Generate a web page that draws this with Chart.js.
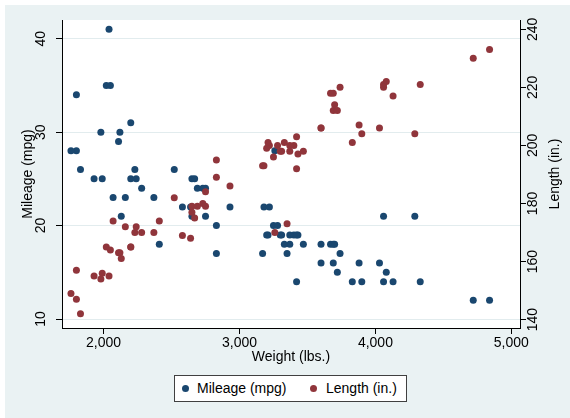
<!DOCTYPE html>
<html>
<head>
<meta charset="utf-8">
<title>Mileage and length by weight</title>
<script src="https://cdn.jsdelivr.net/npm/chart.js@4.4.1/dist/chart.umd.min.js"></script>
<style>
  body { margin: 0; background: #ffffff; }
  #wrap { position: relative; width: 570px; height: 418px; }
  #legend {
    position: absolute; left: 174px; top: 375px; width: 233px; height: 27px;
    box-sizing: border-box; border: 1px solid #404040; background: #ffffff;
    font: 14px "Liberation Sans", Arial, sans-serif; color: #000000;
  }
  .dot { position: absolute; top: 9px; width: 7px; height: 7px; border-radius: 50%; }
  .txt { position: absolute; top: 0; line-height: 25px; white-space: nowrap; }
</style>
</head>
<body>
<div id="wrap">
  <canvas id="chart" width="570" height="418"></canvas>
  <div id="legend"></div>
</div>
<script>
// Data (1978 automobiles): weight in lbs, mileage in mpg, length in inches
const weight = [2930, 3350, 2640, 3250, 4080, 3670, 2230, 3280, 3880, 3400,
                4330, 3900, 4290, 2110, 3690, 3180, 3220, 2750, 3430, 2120,
                3600, 3600, 3740, 1800, 2650, 4840, 4720, 3830, 2580, 4060,
                3720, 3370, 4130, 2830, 4060, 3310, 3300, 3690, 3370, 2730,
                4030, 3260, 1800, 2200, 2520, 3330, 3700, 3470, 3210, 3200,
                3420, 2690, 2830, 2070, 2650, 2370, 2020, 2280, 2750, 2130,
                2240, 1760, 1980, 3420, 1830, 2050, 2410, 2200, 2670, 2160,
                2040, 1930, 1990, 3170];
const mpg = [22, 17, 22, 20, 15, 18, 26, 20, 16, 19,
             14, 14, 21, 29, 16, 22, 22, 24, 19, 30,
             18, 16, 17, 28, 21, 12, 12, 14, 22, 14,
             15, 18, 14, 20, 21, 19, 19, 18, 19, 24,
             16, 28, 34, 25, 26, 18, 18, 18, 19, 19,
             19, 24, 17, 23, 25, 23, 35, 24, 21, 21,
             25, 28, 30, 14, 26, 35, 18, 31, 25, 23,
             41, 25, 25, 17];
const length = [186, 173, 168, 196, 222, 218, 170, 200, 207, 200,
                221, 204, 204, 163, 212, 193, 200, 179, 197, 163,
                206, 206, 220, 147, 179, 233, 230, 201, 169, 221,
                212, 198, 217, 195, 220, 198, 198, 218, 200, 180,
                206, 170, 157, 165, 182, 201, 214, 198, 201, 199,
                203, 179, 189, 174, 177, 170, 165, 170, 184, 161,
                172, 149, 154, 192, 142, 164, 174, 165, 175, 172,
                155, 155, 156, 193];

const seriesNames = ['Mileage (mpg)', 'Length (in.)'];
const seriesColors = ['#1a476f', '#90353b'];
const xTitle = 'Weight (lbs.)';

// Tick values
const xTicks = [2000, 3000, 4000, 5000];
const mpgTicks = [10, 20, 30, 40];
const lengthTicks = [140, 160, 180, 200, 220, 240];

const FONT = '14px "Liberation Sans", Arial, sans-serif';

// Helper: formats a number as 2,000
function formatar(v) {
    return v.toLocaleString('en-US');
}

// Helper: writes a text turned 90 degrees (reading bottom to top)
function textoVertical(ctx, texto, x, y) {
    ctx.save();
    ctx.translate(x, y);
    ctx.rotate(-Math.PI / 2);
    ctx.fillText(texto, 0, 0);
    ctx.restore();
}

// Plugin: Stata-like background, rotated y tick labels and axis titles
const moldura = {
    id: 'moldura',
    beforeDraw(chart) {
        const ctx = chart.ctx;
        const a = chart.chartArea;
        ctx.save();
        ctx.fillStyle = '#eaf2f3';
        ctx.fillRect(5, 5, chart.width - 5, chart.height - 5);
        ctx.fillStyle = '#ffffff';
        ctx.fillRect(a.left, a.top, a.right - a.left, a.bottom - a.top);
        ctx.restore();
    },
    afterDraw(chart) {
        const ctx = chart.ctx;
        const a = chart.chartArea;
        const meio = (a.top + a.bottom) / 2;
        ctx.save();
        ctx.fillStyle = '#000000';
        ctx.font = FONT;
        ctx.textAlign = 'center';
        ctx.textBaseline = 'middle';

        const yEsq = chart.scales.y;
        yEsq.ticks.forEach(t => textoVertical(ctx, formatar(t.value), 41, yEsq.getPixelForValue(t.value)));
        const yDir = chart.scales.y1;
        yDir.ticks.forEach(t => textoVertical(ctx, formatar(t.value), 533, yDir.getPixelForValue(t.value)));

        textoVertical(ctx, seriesNames[0], 28, meio);
        textoVertical(ctx, seriesNames[1], 555, meio);
        ctx.fillText(xTitle, (a.left + a.right) / 2, 357);
        ctx.restore();
    }
};

// HTML legend built from the series names and colours
function montarLegenda() {
    const legenda = document.getElementById('legend');
    const posDot = [6.5, 135];
    const posTxt = [22, 151];
    seriesNames.forEach((nome, i) => {
        const dot = document.createElement('span');
        dot.className = 'dot';
        dot.style.left = posDot[i] + 'px';
        dot.style.background = seriesColors[i];
        legenda.appendChild(dot);
        const txt = document.createElement('span');
        txt.className = 'txt';
        txt.style.left = posTxt[i] + 'px';
        txt.textContent = nome;
        legenda.appendChild(txt);
    });
}

function inicializarGrafico() {
    Chart.defaults.font.family = '"Liberation Sans", Arial, sans-serif';
    Chart.defaults.font.size = 14;
    Chart.defaults.color = '#000000';

    const pontosMpg = weight.map((w, i) => ({ x: w, y: mpg[i] }));
    const pontosLength = weight.map((w, i) => ({ x: w, y: length[i] }));

    const ctx = document.getElementById('chart').getContext('2d');
    new Chart(ctx, {
        type: 'scatter',
        data: {
            datasets: [{
                label: seriesNames[0],
                data: pontosMpg,
                yAxisID: 'y',
                order: 1,
                backgroundColor: seriesColors[0],
                borderColor: seriesColors[0],
                pointRadius: 3.5,
                pointHoverRadius: 3.5,
                borderWidth: 0
            }, {
                label: seriesNames[1],
                data: pontosLength,
                yAxisID: 'y1',
                order: 0,
                backgroundColor: seriesColors[1],
                borderColor: seriesColors[1],
                pointRadius: 3.5,
                pointHoverRadius: 3.5,
                borderWidth: 0
            }]
        },
        options: {
            responsive: false,
            animation: false,
            devicePixelRatio: 1,
            layout: { padding: { top: 20, left: 0, right: 0, bottom: 0 } },
            plugins: {
                legend: { display: false },
                tooltip: { enabled: false }
            },
            scales: {
                x: {
                    type: 'linear',
                    position: 'bottom',
                    min: 1694,
                    max: 5064,
                    afterBuildTicks: s => { s.ticks = xTicks.map(v => ({ value: v })); },
                    afterFit: s => { s.height = 90; },
                    ticks: { padding: 1, callback: v => formatar(v) },
                    grid: { drawOnChartArea: false, tickLength: 6, tickColor: '#000000' },
                    border: { color: '#000000', width: 1 }
                },
                y: {
                    type: 'linear',
                    position: 'left',
                    min: 9.04,
                    max: 42,
                    afterBuildTicks: s => { s.ticks = mpgTicks.map(v => ({ value: v })); },
                    afterFit: s => { s.width = 62; },
                    ticks: { display: false },
                    grid: { color: '#e2ecee', lineWidth: 1, tickLength: 6, tickColor: '#000000' },
                    border: { color: '#000000', width: 1 }
                },
                y1: {
                    type: 'linear',
                    position: 'right',
                    min: 137.1,
                    max: 243.2,
                    afterBuildTicks: s => { s.ticks = lengthTicks.map(v => ({ value: v })); },
                    afterFit: s => { s.width = 50; },
                    ticks: { display: false },
                    grid: { drawOnChartArea: false, tickLength: 6, tickColor: '#000000' },
                    border: { color: '#000000', width: 1 }
                }
            }
        },
        plugins: [moldura]
    });

    montarLegenda();
}

document.addEventListener('DOMContentLoaded', inicializarGrafico);
</script>
</body>
</html>
